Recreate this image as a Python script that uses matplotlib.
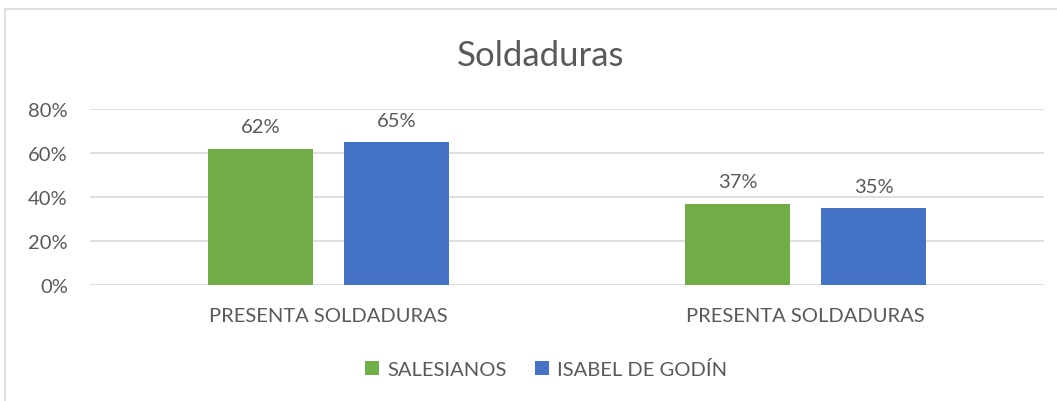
import numpy as np
import matplotlib.pyplot as plt
from matplotlib.patches import Rectangle
from matplotlib.ticker import FuncFormatter

categories = ['PRESENTA SOLDADURAS', 'PRESENTA SOLDADURAS']
salesianos = [0.62, 0.37]
isabel = [0.65, 0.35]
series_names = ['SALESIANOS', 'ISABEL DE GODÍN']

plt.rcParams['font.family'] = ['Lato', 'DejaVu Sans']
txt = '#595959'

fig = plt.figure(figsize=(10.57, 4.02), dpi=100)
fig.patches.append(Rectangle((5 / 1057, -0.1), 1.2, 1 - 10 / 402 + 0.1,
                             transform=fig.transFigure, fill=False,
                             edgecolor='#D9D9D9', linewidth=1.2))
ax = fig.add_axes([90 / 1057, 1 - 286 / 402, 954 / 1057, 176 / 402])

x = np.arange(len(categories))
w = 0.222
off = 0.1426
b1 = ax.bar(x - off, salesianos, w, color='#70AD47', label=series_names[0], zorder=3)
b2 = ax.bar(x + off, isabel, w, color='#4472C4', label=series_names[1], zorder=3)

for bars, vals in [(b1, salesianos), (b2, isabel)]:
    for r, v in zip(bars, vals):
        ax.text(r.get_x() + r.get_width() / 2, v + 0.06, f'{v:.0%}',
                ha='center', va='bottom', fontsize=14.5, color=txt)

ax.set_xlim(-0.5, 1.5)
ax.set_ylim(0, 0.8)
ax.set_yticks([0, 0.2, 0.4, 0.6, 0.8])
ax.yaxis.set_major_formatter(FuncFormatter(lambda v, p: f'{v:.0%}'))
ax.set_xticks(x)
ax.set_xticklabels(categories)
ax.tick_params(axis='both', length=0, labelsize=14.5, labelcolor=txt)
ax.tick_params(axis='x', pad=16)
ax.tick_params(axis='y', pad=16)
ax.grid(axis='y', color='#D9D9D9', linewidth=1.2, zorder=0)
for s in ax.spines.values():
    s.set_visible(False)

fig.text(541 / 1057, 1 - 56 / 402, 'Soldaduras', ha='center', va='center',
         fontsize=25, color=txt)
fig.legend(loc='center', bbox_to_anchor=(546 / 1057, 1 - 370 / 402), ncol=2,
           frameon=False, fontsize=14.5, labelcolor=txt, handlelength=0.7,
           handleheight=0.7, columnspacing=1.4, handletextpad=0.4)

fig.savefig('out.png', dpi=100)
